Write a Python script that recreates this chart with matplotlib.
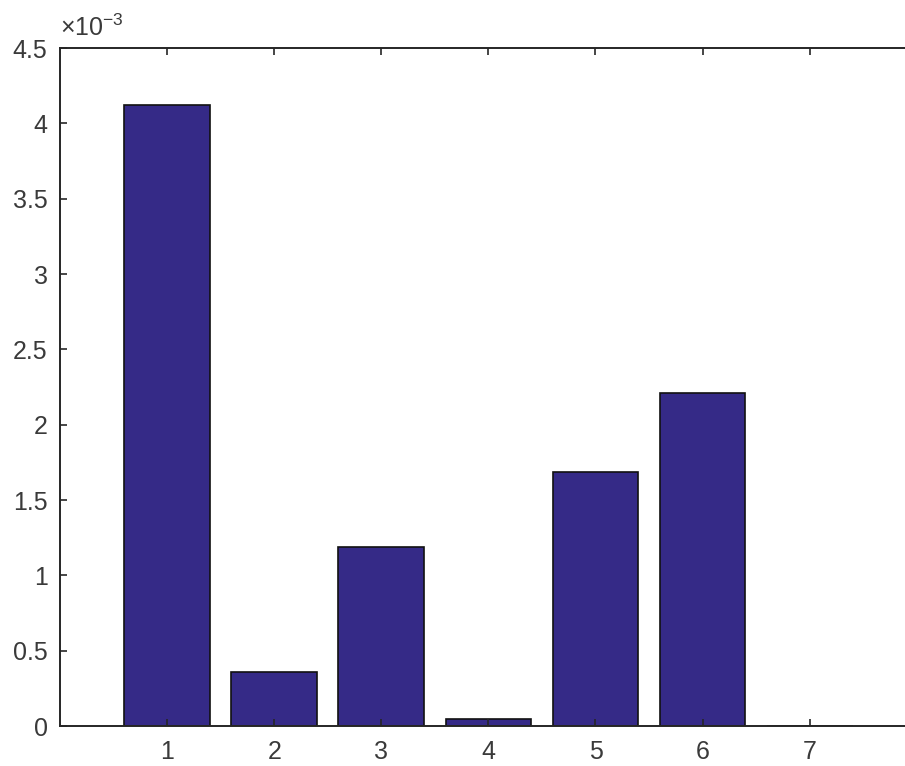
import numpy as np
import matplotlib
matplotlib.use("Agg")
import matplotlib.pyplot as plt
from matplotlib.ticker import FuncFormatter

# bar heights, in units of 1e-3
categories = [1, 2, 3, 4, 5, 6, 7]
values = [4.12, 0.358, 1.19, 0.046, 1.685, 2.21, 0.0]
scale = 1e-3
yticks = [0, 0.5, 1, 1.5, 2, 2.5, 3, 3.5, 4, 4.5]

plt.rcParams['font.family'] = ['Liberation Sans', 'DejaVu Sans']
plt.rcParams['mathtext.fontset'] = 'custom'
plt.rcParams['mathtext.rm'] = 'Liberation Sans'
plt.rcParams['mathtext.it'] = 'Liberation Sans'

fig = plt.figure(figsize=(9.05, 7.66), dpi=100)
# right edge of the axes lies past the image border (as in the reference)
ax = fig.add_axes([0.0663, 0.0522, 1.013 - 0.0663, 0.9373 - 0.0522])

ax.bar(categories, np.array(values) * scale, width=0.8,
       color='#352a87', edgecolor='#111111', linewidth=1.2)

ax.set_xlim(0, 8)
ax.set_ylim(0, 4.5 * scale)
ax.set_xticks(categories)
ax.set_yticks(np.array(yticks) * scale)
ax.yaxis.set_major_formatter(FuncFormatter(lambda v, p: f'{v / scale:g}'))

ax.spines['right'].set_visible(False)
for s in ['left', 'top', 'bottom']:
    ax.spines[s].set_linewidth(1.4)
    ax.spines[s].set_color('#262626')
ax.tick_params(direction='in', length=5, width=1.2, color='#262626',
               labelsize=18, labelcolor='#3a3a3a', top=True, right=False)
ax.tick_params(axis='y', pad=9)
ax.tick_params(axis='x', pad=10)

ax.text(0.0, 1.01, r'$\times10^{-3}$', transform=ax.transAxes,
        fontsize=18, color='#3a3a3a', ha='left', va='bottom')

fig.savefig('out.png', dpi=100)
